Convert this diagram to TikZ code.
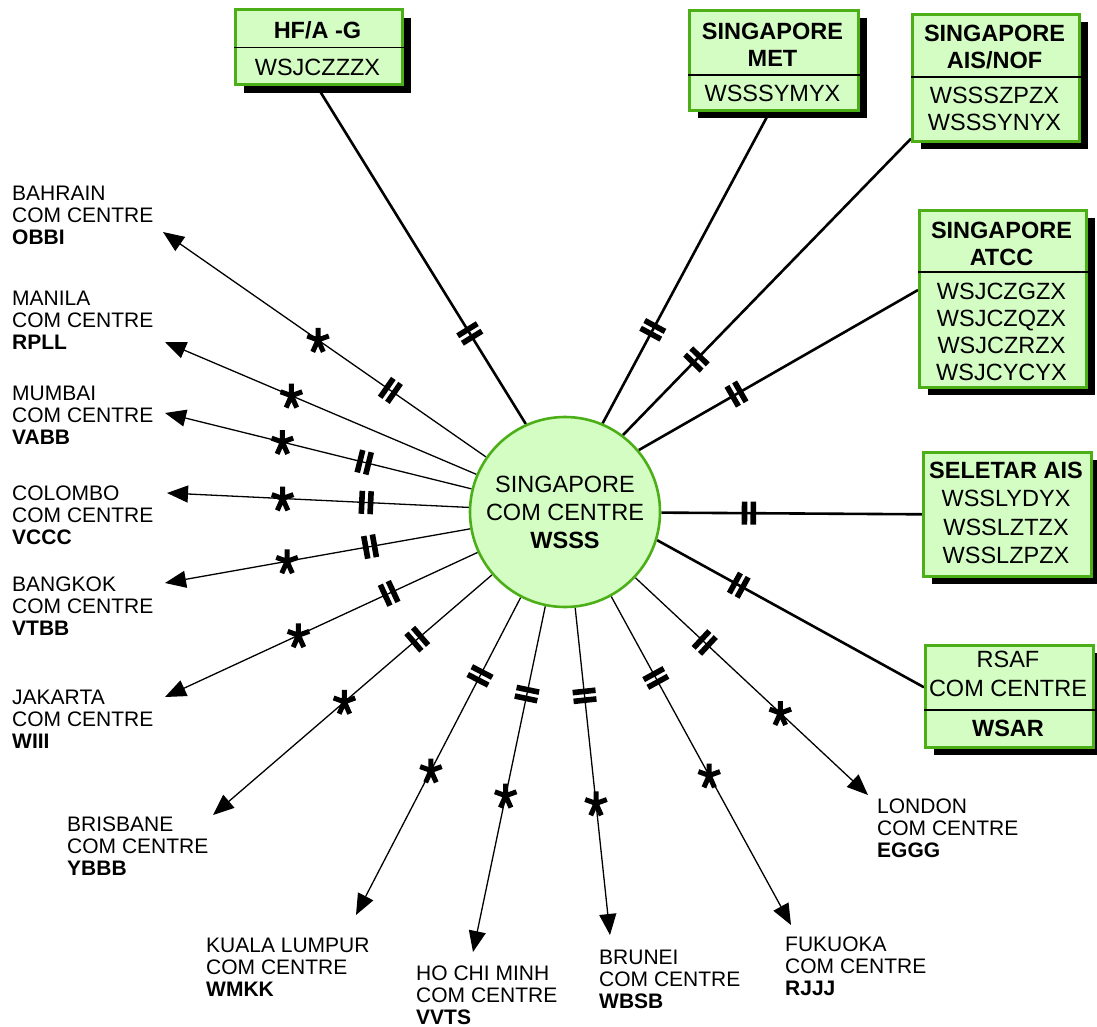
\documentclass[tikz,border=0pt]{standalone}
\usepackage{fontspec}
\setmainfont{Liberation Sans}
\usetikzlibrary{arrows.meta,backgrounds}
\definecolor{boxfill}{RGB}{212,253,196}
\definecolor{boxline}{RGB}{76,175,24}
\tikzset{
  box/.style={draw=boxline, line width=2.6pt, fill=boxfill, rectangle, inner sep=0pt, anchor=north west,
    preaction={fill=black, draw=none, transform canvas={shift={(8.5pt,-8pt)}}}},
  circ/.style={circle, draw=boxline, line width=2.6pt, fill=boxfill, minimum size=190pt, inner sep=0pt,
    align=center, font=\fontsize{23.5}{28}\selectfont},
  btxt/.style={align=center, inner sep=0pt, font=\fontsize{23.5}{27}\selectfont},
  lbl/.style={align=left, anchor=west, inner sep=0pt, font=\fontsize{21}{22}\selectfont},
  divl/.style={line width=1.3pt, black},
  link/.style={line width=2.6pt, black},
  arr/.style={line width=1.3pt, black, -{Triangle[length=21pt,width=17pt]}},
  hatch/.pic={\fill (-7.2pt,-11.5pt) rectangle (-1.6pt,11.5pt); \fill (1.6pt,-11.5pt) rectangle (7.2pt,11.5pt);},
  astk/.pic={\draw[-, line width=5pt, line cap=butt]
     (0,0) -- (90:12pt) (0,0) -- (160:11.5pt) (0,0) -- (20:11.5pt)
     (0,0) -- (246:13pt) (0,0) -- (294:13pt);},
}
\begin{document}
\begin{tikzpicture}[x=1pt,y=-1pt]
\useasboundingbox (0,0) rectangle (1097,1027);

% centre
\node[circ] (c) at (565,512) {SINGAPORE\\COM CENTRE\\\textbf{WSSS}};

% boxes
\node[box, minimum width=167pt, minimum height=75pt] (hfa) at (234,8.5) {};
\node[box, minimum width=169pt, minimum height=100pt] (met) at (688,9) {};
\node[box, minimum width=167pt, minimum height=127pt] (ais) at (911,13) {};
\node[box, minimum width=167pt, minimum height=177pt] (atcc) at (918,209) {};
\node[box, minimum width=168pt, minimum height=124pt] (sel) at (922,451) {};
\node[box, minimum width=168pt, minimum height=102pt] (rsaf) at (924,644) {};

\draw[divl] ([yshift=-39pt]hfa.north west) -- ([yshift=-39pt]hfa.north east);
\draw[divl] ([yshift=-66pt]met.north west) -- ([yshift=-66pt]met.north east);
\draw[divl] ([yshift=-64pt]ais.north west) -- ([yshift=-64pt]ais.north east);
\draw[divl] ([yshift=-63pt]atcc.north west) -- ([yshift=-63pt]atcc.north east);
\draw[divl] ([yshift=-66pt]rsaf.north west) -- ([yshift=-66pt]rsaf.north east);

\node[btxt] (hfaT) at (317.5,30) {\textbf{HF/A -G}};
\node[btxt] (hfaB) at (317.5,67) {WSJCZZZX};
\node[btxt] (metT) at (772.5,44.5) {\textbf{SINGAPORE}\\\textbf{MET}};
\node[btxt] (metB) at (772.5,93) {WSSSYMYX};
\node[btxt] (aisT) at (994.5,47) {\textbf{SINGAPORE}\\\textbf{AIS/NOF}};
\node[btxt] (aisB) at (994.5,109) {WSSSZPZX\\WSSSYNYX};
\node[btxt] (atccT) at (1001.5,244) {\textbf{SINGAPORE}\\\textbf{ATCC}};
\node[btxt] (atccB) at (1001.5,331.5) {WSJCZGZX\\WSJCZQZX\\WSJCZRZX\\WSJCYCYX};
\node[btxt, font=\fontsize{23.5}{28.3}\selectfont] (selT) at (1006,513) {\textbf{SELETAR AIS}\\WSSLYDYX\\WSSLZTZX\\WSSLZPZX};
\node[btxt, font=\fontsize{23.5}{29}\selectfont] (rsafT) at (1008,674) {RSAF\\COM CENTRE};
\node[btxt] (rsafB) at (1008,728) {\textbf{WSAR}};

% labels
\node[lbl] (bah) at (12,215) {BAHRAIN\\COM CENTRE\\\textbf{OBBI}};
\node[lbl] (man) at (12,320) {MANILA\\COM CENTRE\\\textbf{RPLL}};
\node[lbl] (mum) at (12,415) {MUMBAI\\COM CENTRE\\\textbf{VABB}};
\node[lbl] (col) at (12,515) {COLOMBO\\COM CENTRE\\\textbf{VCCC}};
\node[lbl] (bkk) at (12,606) {BANGKOK\\COM CENTRE\\\textbf{VTBB}};
\node[lbl] (jak) at (12,719) {JAKARTA\\COM CENTRE\\\textbf{WIII}};
\node[lbl] (bri) at (67,846) {BRISBANE\\COM CENTRE\\\textbf{YBBB}};
\node[lbl] (kul) at (206,967) {KUALA LUMPUR\\COM CENTRE\\\textbf{WMKK}};
\node[lbl] (hcm) at (416,995) {HO CHI MINH\\COM CENTRE\\\textbf{VVTS}};
\node[lbl] (bru) at (599,979) {BRUNEI\\COM CENTRE\\\textbf{WBSB}};
\node[lbl] (fuk) at (785,966) {FUKUOKA\\COM CENTRE\\\textbf{RJJJ}};
\node[lbl] (lon) at (877,828) {LONDON\\COM CENTRE\\\textbf{EGGG}};

% arrow tips
\coordinate (tbah) at (163,232);
\coordinate (tman) at (165,342);
\coordinate (tmum) at (165,413);
\coordinate (tcol) at (167,493);
\coordinate (tbkk) at (165,583);
\coordinate (tjak) at (165,697);
\coordinate (tbri) at (213,815);
\coordinate (tkul) at (356,915);
\coordinate (thcm) at (473,952);
\coordinate (tbru) at (610,935);
\coordinate (tfuk) at (791,925);
\coordinate (tlon) at (868,795);

\begin{scope}[on background layer]
\draw[link] (c.114) -- ([xshift=-2pt]hfa.south) pic[pos=.268,sloped]{hatch};
\draw[link] (c.67.7) -- ([xshift=-4pt]met.south) pic[pos=.30,sloped]{hatch};
\draw[link] (c.53) -- ([yshift=4pt]ais.south west) pic[pos=.255,sloped]{hatch};
\draw[link] (c.40.7) -- ([yshift=-81pt]atcc.north west) pic[pos=.35,sloped]{hatch};
\draw[link] (c) -- (sel.west) pic[pos=.336,sloped]{hatch};
\draw[link] (c.-17.7) -- ([yshift=9pt]rsaf.west) pic[pos=.306,sloped]{hatch};

\draw[arr] (c) -- (tbah) pic[pos=.296,sloped]{hatch} pic[pos=.52]{astk};
\draw[arr] (c) -- (tman) pic[pos=.594]{astk};
\draw[arr] (c) -- (tmum) pic[pos=.35,sloped]{hatch} pic[pos=.617]{astk};
\draw[arr] (c) -- (tcol) pic[pos=.34,sloped]{hatch} pic[pos=.617]{astk};
\draw[arr] (c) -- (tbkk) pic[pos=.328,sloped]{hatch} pic[pos=.60]{astk};
\draw[arr] (c) -- (tjak) pic[pos=.283,sloped]{hatch} pic[pos=.573]{astk};
\draw[arr] (c) -- (tbri) pic[pos=.268,sloped]{hatch} pic[pos=.529]{astk};
\draw[arr] (c) -- (tkul) pic[pos=.247,sloped]{hatch} pic[pos=.545]{astk};
\draw[arr] (c) -- (thcm) pic[pos=.254,sloped]{hatch} pic[pos=.548]{astk};
\draw[arr] (c) -- (tbru) pic[pos=.269,sloped]{hatch} pic[pos=.598]{astk};
\draw[arr] (c) -- (tfuk) pic[pos=.248,sloped]{hatch} pic[pos=.545]{astk};
\draw[arr] (c) -- (tlon) pic[pos=.298,sloped]{hatch} pic[pos=.623]{astk};
\end{scope}
\end{tikzpicture}
\end{document}
